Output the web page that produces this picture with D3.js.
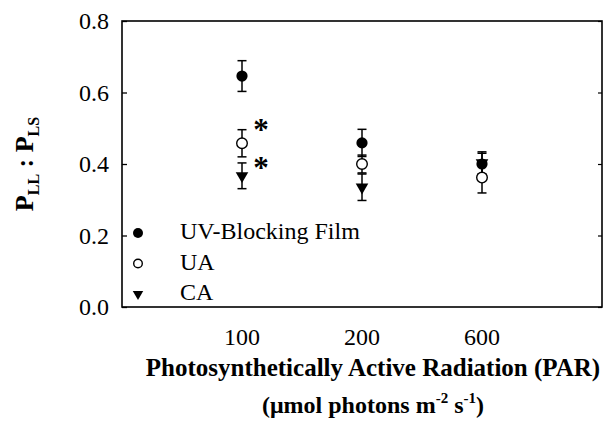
<!DOCTYPE html>
<html>
<head>
<meta charset="utf-8">
<script src="https://cdn.jsdelivr.net/npm/d3@7"></script>
<style>
  html, body { margin: 0; padding: 0; background: #fff; }
  svg { display: block; font-family: "Liberation Serif", "Times New Roman", serif; }
</style>
</head>
<body>
<svg id="chart" width="606" height="432"></svg>
<script>
// PAR levels (µmol photons m-2 s-1)
const categories = ["100", "200", "600"];

// P_LL : P_LS ratio per treatment, with error bar half-widths
const uvFilm = [0.646, 0.459, 0.400];
const uvFilmErr = [0.043, 0.038, 0.030];
const ua = [0.458, 0.400, 0.362];
const uaErr = [0.038, 0.025, 0.043];
const ca = [0.367, 0.335, 0.403];
const caErr = [0.036, 0.037, 0.031];

const yTicks = [0.0, 0.2, 0.4, 0.6, 0.8];

// Significance marks: [category index, value]
const stars = [[0, 0.508], [0, 0.404]];

const series = [
  { name: "UV-Blocking Film", values: uvFilm, err: uvFilmErr, type: "filled" },
  { name: "UA", values: ua, err: uaErr, type: "open" },
  { name: "CA", values: ca, err: caErr, type: "triangle" }
];

const svg = d3.select("#chart");
const plotL = 122, plotR = 602, plotT = 21, plotB = 307;

const x = d3.scaleLinear().domain([0, categories.length + 1]).range([plotL, plotR]);
const y = d3.scaleLinear().domain([0, 0.8]).range([plotB, plotT]);

// Frame
svg.append("rect")
  .attr("x", plotL).attr("y", plotT)
  .attr("width", plotR - plotL).attr("height", plotB - plotT)
  .attr("fill", "none").attr("stroke", "#000").attr("stroke-width", 1.6);

// Inward ticks on both vertical sides, labels outside on the left
svg.append("g").attr("transform", `translate(${plotL},0)`)
  .call(d3.axisRight(y).tickValues(yTicks).tickSize(5).tickFormat(""))
  .call(g => g.select(".domain").remove())
  .call(g => g.selectAll("line").attr("stroke-width", 1.3));
svg.append("g").attr("transform", `translate(${plotR},0)`)
  .call(d3.axisLeft(y).tickValues(yTicks).tickSize(4).tickFormat(""))
  .call(g => g.select(".domain").remove())
  .call(g => g.selectAll("line").attr("stroke-width", 1.2));

svg.append("g").selectAll("text").data(yTicks).join("text")
  .attr("x", plotL - 13).attr("y", d => y(d))
  .attr("dy", "0.35em")
  .attr("text-anchor", "end")
  .attr("font-size", 24)
  .text(d => d.toFixed(1));

// Category labels
svg.append("g").selectAll("text").data(categories).join("text")
  .attr("x", (d, i) => x(i + 1)).attr("y", 345)
  .attr("text-anchor", "middle")
  .attr("font-size", 24)
  .text(d => d);

// Axis titles
svg.append("text")
  .attr("x", 373).attr("y", 376)
  .attr("text-anchor", "middle")
  .attr("font-size", 25).attr("font-weight", "bold")
  .text("Photosynthetically Active Radiation (PAR)");

const t2 = svg.append("text")
  .attr("x", 373).attr("y", 413)
  .attr("text-anchor", "middle")
  .attr("font-size", 24).attr("font-weight", "bold");
t2.append("tspan").text("(\u03BCmol photons m");
t2.append("tspan").attr("font-size", 15).attr("dy", -10).text("-2");
t2.append("tspan").attr("dy", 10).text(" s");
t2.append("tspan").attr("font-size", 15).attr("dy", -10).text("-1");
t2.append("tspan").attr("dy", 10).text(")");

const yt = svg.append("text")
  .attr("transform", `translate(33,${(plotT + plotB) / 2}) rotate(-90)`)
  .attr("text-anchor", "middle")
  .attr("font-size", 26).attr("font-weight", "bold");
yt.append("tspan").text("P");
yt.append("tspan").attr("font-size", 16).attr("dy", 6).text("LL");
yt.append("tspan").attr("dy", -6).text(" : P");
yt.append("tspan").attr("font-size", 16).attr("dy", 6).text("LS");

// Marker drawing
const triangle = d3.symbol().type(d3.symbolTriangle);
function drawMarker(g, type, cx, cy, r) {
  if (type === "triangle") {
    g.append("path")
      .attr("d", triangle.size(r * r * 1.9)())
      .attr("transform", `translate(${cx},${cy}) rotate(180)`)
      .attr("fill", "#000");
  } else {
    g.append("circle")
      .attr("cx", cx).attr("cy", cy).attr("r", type === "open" ? r - 0.7 : r)
      .attr("fill", type === "open" ? "#fff" : "#000")
      .attr("stroke", "#000").attr("stroke-width", type === "open" ? 1.4 : 0);
  }
}

// Error bars and points
const marks = svg.append("g");
series.forEach(s => {
  const g = marks.append("g");
  s.values.forEach((v, i) => {
    const cx = x(i + 1);
    const lo = y(v - s.err[i]), hi = y(v + s.err[i]);
    g.append("line").attr("x1", cx).attr("x2", cx).attr("y1", lo).attr("y2", hi)
      .attr("stroke", "#000").attr("stroke-width", 1.5);
    [lo, hi].forEach(yy => g.append("line")
      .attr("x1", cx - 4.5).attr("x2", cx + 4.5).attr("y1", yy).attr("y2", yy)
      .attr("stroke", "#000").attr("stroke-width", 1.5));
  });
});
series.forEach(s => {
  const g = marks.append("g");
  s.values.forEach((v, i) => drawMarker(g, s.type, x(i + 1), y(v), s.type === "filled" ? 5.6 : 6));
});

// Significance asterisks
svg.append("g").selectAll("text").data(stars).join("text")
  .attr("x", d => x(d[0] + 1) + 19).attr("y", d => y(d[1]) + 15)
  .attr("text-anchor", "middle")
  .attr("font-size", 31).attr("font-weight", "bold")
  .text("*");

// Legend
const legend = svg.append("g");
series.forEach((s, i) => {
  const ly = 233 + i * 30.5;
  drawMarker(legend, s.type, 138, ly, 5);
  legend.append("text")
    .attr("x", 180).attr("y", ly + 6)
    .attr("font-size", 24)
    .text(s.name);
});
</script>
</body>
</html>
